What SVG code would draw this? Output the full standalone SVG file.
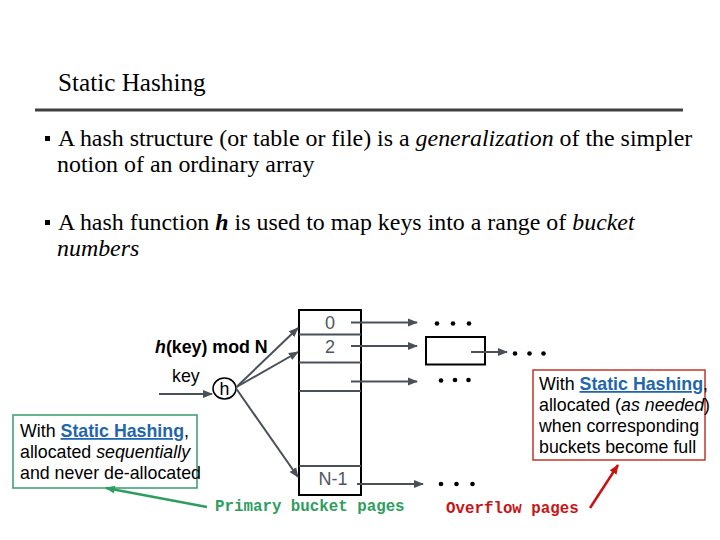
<svg xmlns="http://www.w3.org/2000/svg" width="720" height="540" viewBox="0 0 720 540">
<style>
.serif{font-family:"Liberation Serif","Times New Roman",serif;fill:#000}
.sans{font-family:"Liberation Sans",Arial,sans-serif;font-size:17.8px;fill:#000}
.mono{font-family:"Liberation Mono","Courier New",monospace;font-size:15.8px}
.lbl{font-family:"Liberation Sans",Arial,sans-serif;font-size:18px;fill:#50565e}
.link{fill:#1f66ad;font-weight:bold;text-decoration:underline}
.conn{stroke:#4a5059;stroke-width:2;fill:none}
.cell{stroke:#4a5059;stroke-width:2}
.dot{fill:#000}
</style>
<defs>
<marker id="ag" viewBox="0 0 10 10" refX="9" refY="5" markerWidth="5" markerHeight="5" orient="auto" markerUnits="strokeWidth"><path d="M0,1 L10,5 L0,9 z" fill="#4a5059"/></marker>
<marker id="agr" viewBox="0 0 10 10" refX="9" refY="5" markerWidth="4" markerHeight="4" orient="auto" markerUnits="strokeWidth"><path d="M0,1 L10,5 L0,9 z" fill="#2e9e5e"/></marker>
<marker id="ard" viewBox="0 0 10 10" refX="9" refY="5" markerWidth="4" markerHeight="4" orient="auto" markerUnits="strokeWidth"><path d="M0,1 L10,5 L0,9 z" fill="#cc1111"/></marker>
</defs>
<rect width="720" height="540" fill="#fff"/>

<g id="title">
<text class="serif" x="58" y="91" font-size="25.2">Static Hashing</text>
<line x1="35" y1="110" x2="683" y2="110" stroke="#404040" stroke-width="3"/>
</g>

<g id="bullets">
<rect x="45" y="136" width="5" height="5" fill="#000"/>
<text class="serif" x="58" y="146" font-size="23.9">A hash structure (or table or file) is a <tspan font-style="italic">generalization</tspan> of the simpler</text>
<text class="serif" x="57" y="172" font-size="23.9">notion of an ordinary array</text>
<rect x="45" y="220" width="5" height="5" fill="#000"/>
<text class="serif" x="58" y="230" font-size="23.9">A hash function <tspan font-style="italic" font-weight="bold">h</tspan> is used to map keys into a range of <tspan font-style="italic">bucket</tspan></text>
<text class="serif" x="57" y="256" font-size="23.9" font-style="italic">numbers</text>
</g>

<g id="hashfn-label">
<text class="sans" x="155" y="353" font-weight="bold"><tspan font-style="italic">h</tspan>(key) mod N</text>
</g>
<g id="key-label">
<text class="sans" x="172" y="382">key</text>
</g>
<g id="h-node">
<ellipse cx="224.5" cy="388.5" rx="11.5" ry="10.5" fill="#fff" stroke="#000" stroke-width="1.5"/>
<text class="sans" x="224.5" y="395" text-anchor="middle">h</text>
</g>

<g id="primary-buckets">
<rect x="299" y="310" width="62" height="185" fill="#fff" stroke="#000" stroke-width="2"/>
<line class="cell" x1="299" y1="334.5" x2="361" y2="334.5"/>
<line class="cell" x1="299" y1="362.5" x2="361" y2="362.5"/>
<line class="cell" x1="299" y1="391" x2="361" y2="391"/>
<line class="cell" x1="299" y1="466" x2="361" y2="466"/>
<text class="lbl" x="330" y="329" text-anchor="middle">0</text>
<text class="lbl" x="330" y="353" text-anchor="middle">2</text>
<text class="lbl" x="333" y="485" text-anchor="middle">N-1</text>
</g>

<g id="overflow-page">
<rect x="426" y="337" width="59" height="27.5" fill="#fff" stroke="#000" stroke-width="2"/>
</g>

<g id="dots">
<circle class="dot" cx="437" cy="323.5" r="2.3"/><circle class="dot" cx="453" cy="323.5" r="2.3"/><circle class="dot" cx="469" cy="323.5" r="2.3"/>
<circle class="dot" cx="515" cy="353.5" r="2.3"/><circle class="dot" cx="529.5" cy="353.5" r="2.3"/><circle class="dot" cx="543.5" cy="353.5" r="2.3"/>
<circle class="dot" cx="441" cy="380.5" r="2.3"/><circle class="dot" cx="455" cy="380" r="2.3"/><circle class="dot" cx="468.5" cy="380" r="2.3"/>
<circle class="dot" cx="441" cy="484" r="2.3"/><circle class="dot" cx="456.5" cy="484" r="2.3"/><circle class="dot" cx="472.5" cy="484" r="2.3"/>
</g>

<g id="static-note-left">
<rect x="13" y="415" width="184" height="73" fill="none" stroke="#3a9b6e" stroke-width="1.5"/>
<text class="sans" x="20" y="437">With <tspan class="link">Static Hashing</tspan>,</text>
<text class="sans" x="20" y="458">allocated <tspan font-style="italic">sequentially</tspan></text>
<text class="sans" x="20" y="479">and never de-allocated</text>
</g>

<g id="static-note-right">
<rect x="533" y="370" width="172" height="90" fill="none" stroke="#c0392b" stroke-width="1.5"/>
<text class="sans" x="539" y="390">With <tspan class="link">Static Hashing</tspan>,</text>
<text class="sans" x="539" y="411">allocated (<tspan font-style="italic">as needed</tspan>)</text>
<text class="sans" x="539" y="432">when corresponding</text>
<text class="sans" x="539" y="453">buckets become full</text>
</g>

<g id="primary-label">
<text class="mono" x="215" y="511" fill="#2e9e5e" font-weight="bold">Primary bucket pages</text>
</g>
<g id="overflow-label">
<text class="mono" x="446" y="513" fill="#c81414" font-weight="bold">Overflow pages</text>
</g>

<g id="connectors">
<line class="conn" x1="159" y1="394" x2="212" y2="394" marker-end="url(#ag)"/>
<line class="conn" x1="236.5" y1="387" x2="298" y2="328" marker-end="url(#ag)"/>
<line class="conn" x1="236.5" y1="387" x2="298" y2="352" marker-end="url(#ag)"/>
<line class="conn" x1="236.5" y1="389" x2="298" y2="477" marker-end="url(#ag)"/>
<line class="conn" x1="351" y1="322.5" x2="417" y2="322.5" marker-end="url(#ag)"/>
<line class="conn" x1="351" y1="346" x2="417" y2="346" marker-end="url(#ag)"/>
<line class="conn" x1="351" y1="381.5" x2="417" y2="381.5" marker-end="url(#ag)"/>
<line class="conn" x1="357" y1="484" x2="423" y2="484" marker-end="url(#ag)"/>
<line class="conn" x1="471" y1="352" x2="507" y2="352" marker-end="url(#ag)"/>
<line x1="207" y1="507" x2="106" y2="488" stroke="#2e9e5e" stroke-width="2.5" marker-end="url(#agr)"/>
<line x1="590" y1="508" x2="618" y2="465" stroke="#cc1111" stroke-width="2.5" marker-end="url(#ard)"/>
</g>
</svg>
